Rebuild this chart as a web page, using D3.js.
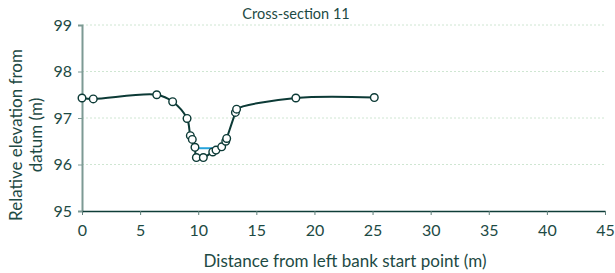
<!DOCTYPE html>
<html>
  <head>
    <meta charset="utf-8">
    <title>Cross-section 11</title>
    <script src="https://cdn.jsdelivr.net/npm/d3@7"></script>
    <style type="text/css">
      body { margin: 0; background: #fff; }
      text { font-family: "Lato", "DejaVu Sans", sans-serif; fill: #1d4a44; }
    </style>
  </head>
  <body>
    <script>
    // Width and height
    var svgWidth = 615;
    var svgHeight = 273;
    var margin = {top: 25, right: 8, bottom: 62, left: 82};

    // Surveyed bed profile (distance m, elevation m)
    var distance = [0, 0.97, 6.43, 7.8, 9.04, 9.32, 9.49, 9.72, 9.84, 10.44, 11.25, 11.53, 12.02, 12.37, 12.45, 13.2, 13.3, 18.4, 25.15];
    var elevation = [97.43, 97.41, 97.50, 97.35, 96.99, 96.62, 96.54, 96.37, 96.15, 96.15, 96.27, 96.31, 96.38, 96.5, 96.56, 97.12, 97.19, 97.43, 97.44];

    // Water surface
    var waterX = [9.72, 11.95];
    var waterY = [96.35, 96.35];

    var xTicks = [0, 5, 10, 15, 20, 25, 30, 35, 40, 45];
    var yTicks = [95, 96, 97, 98, 99];

    var profile = distance.map(function(d, i) { return [d, elevation[i]]; });
    var water = waterX.map(function(d, i) { return [d, waterY[i]]; });

    var xScale = d3.scaleLinear()
      .domain([0, 45])
      .range([margin.left, svgWidth - margin.right - 2]);

    var yScale = d3.scaleLinear()
      .domain([95, 99])
      .range([svgHeight - margin.bottom, margin.top]);

    var svg = d3.select("body")
      .append("svg")
        .attr("width", svgWidth)
        .attr("height", svgHeight);

    // gridlines
    svg.selectAll("line.grid")
      .data(yTicks.filter(function(d) { return d > 95; }))
      .enter()
      .append("line")
        .attr("class", "grid")
        .attr("x1", xScale(0))
        .attr("x2", xScale(45))
        .attr("y1", function(d) { return yScale(d); })
        .attr("y2", function(d) { return yScale(d); })
        .attr("stroke", "#cfe6d2")
        .attr("stroke-width", 1)
        .attr("stroke-dasharray", "2,2");

    // y axis
    var yAxis = svg.append("g")
      .attr("transform", "translate(" + xScale(0) + ",0)")
      .call(d3.axisLeft(yScale).tickValues(yTicks).tickSize(4).tickFormat(d3.format("d")));
    yAxis.select(".domain").attr("stroke", "#7d9a94").attr("stroke-width", 2);
    yAxis.selectAll(".tick line").attr("stroke", "#7d9a94");
    yAxis.selectAll("text").attr("font-size", "16px").attr("x", -10).style("fill", "#1d4a44");

    // x axis
    var xAxis = svg.append("g")
      .attr("transform", "translate(0," + yScale(95) + ")")
      .call(d3.axisBottom(xScale).tickValues(xTicks).tickSize(4).tickSizeOuter(0));
    xAxis.select(".domain").attr("stroke", "#0f3d38").attr("stroke-width", 1.5);
    xAxis.selectAll(".tick line").attr("stroke", "#5e7f79");
    xAxis.selectAll("text").attr("font-size", "16px").attr("y", 14).style("fill", "#1d4a44");

    // profile line (smoothed)
    var line = d3.line()
      .x(function(d) { return xScale(d[0]); })
      .y(function(d) { return yScale(d[1]); })
      .curve(d3.curveCatmullRom.alpha(0.5));

    svg.append("path")
      .datum(profile)
      .attr("d", line)
      .attr("fill", "none")
      .attr("stroke", "#0c3a36")
      .attr("stroke-width", 2);

    // water level
    svg.append("path")
      .datum(water)
      .attr("d", d3.line()
        .x(function(d) { return xScale(d[0]); })
        .y(function(d) { return yScale(d[1]); }))
      .attr("stroke", "#27a4dc")
      .attr("stroke-width", 2);

    // markers
    svg.selectAll("circle")
      .data(profile)
      .enter()
      .append("circle")
        .attr("cx", function(d) { return xScale(d[0]); })
        .attr("cy", function(d) { return yScale(d[1]); })
        .attr("r", 3.8)
        .attr("fill", "#fff")
        .attr("stroke", "#0c3a36")
        .attr("stroke-width", 1.4);

    // title
    svg.append("text")
      .attr("x", 296)
      .attr("y", 19)
      .attr("text-anchor", "middle")
      .attr("font-size", "14.5px")
      .text("Cross-section 11");

    // x title
    svg.append("text")
      .attr("x", 345)
      .attr("y", 267)
      .attr("text-anchor", "middle")
      .attr("font-size", "17px")
      .text("Distance from left bank start point (m)");

    // y title
    var yTitle = svg.append("text")
      .attr("transform", "translate(0,135) rotate(-90)")
      .attr("text-anchor", "middle")
      .attr("font-size", "17px");
    yTitle.append("tspan").attr("x", 0).attr("y", 22).text("Relative elevation from");
    yTitle.append("tspan").attr("x", 0).attr("y", 42).text("datum (m)");
    </script>
  </body>
</html>
